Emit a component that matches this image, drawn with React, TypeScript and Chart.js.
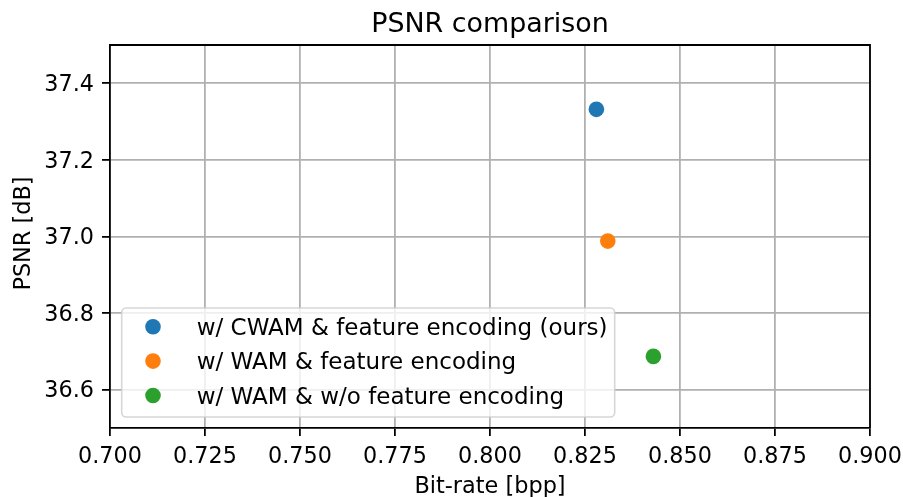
import React, { useEffect, useRef } from "react";
import { Chart, registerables } from "chart.js";

Chart.register(...registerables);

const seriesLabels = [
  "w/ CWAM & feature encoding (ours)",
  "w/ WAM & feature encoding",
  "w/ WAM & w/o feature encoding",
];
const bitRates = [0.828, 0.831, 0.843];
const psnrValues = [37.332, 36.988, 36.687];
const seriesColors = ["#1f77b4", "#ff7f0e", "#2ca02c"];

const xTicks = [0.7, 0.725, 0.75, 0.775, 0.8, 0.825, 0.85, 0.875, 0.9];
const yTicks = [36.6, 36.8, 37.0, 37.2, 37.4];

const chartTitle = "PSNR comparison";
const xTitle = "Bit-rate [bpp]";
const yTitle = "PSNR [dB]";

const FONT = "'DejaVu Sans', sans-serif";
const LW = 1.78;

const decorPlugin = {
  id: "decor",
  afterDraw(chart: any) {
    const ctx = chart.ctx;
    const a = chart.chartArea;
    ctx.save();
    // spines top and right
    ctx.strokeStyle = "#000";
    ctx.lineWidth = LW;
    ctx.beginPath();
    ctx.moveTo(a.left, a.top);
    ctx.lineTo(a.right, a.top);
    ctx.lineTo(a.right, a.bottom);
    ctx.stroke();

    // title
    ctx.fillStyle = "#000";
    ctx.font = `26.9px ${FONT}`;
    ctx.textAlign = "center";
    ctx.textBaseline = "alphabetic";
    ctx.fillText(chartTitle, (a.left + a.right) / 2, 31.5);

    // x title
    ctx.font = `22.4px ${FONT}`;
    ctx.fillText(xTitle, (a.left + a.right) / 2, 493);

    // y title
    ctx.save();
    ctx.translate(29.5, (a.top + a.bottom) / 2 - 3);
    ctx.rotate(-Math.PI / 2);
    ctx.fillText(yTitle, 0, 0);
    ctx.restore();

    // legend
    const bx = a.left + 11.7;
    const bw = 493;
    const bh = 109;
    const by = a.bottom - 11 - bh;
    const r = 4.4;
    ctx.beginPath();
    ctx.moveTo(bx + r, by);
    ctx.lineTo(bx + bw - r, by);
    ctx.arcTo(bx + bw, by, bx + bw, by + r, r);
    ctx.lineTo(bx + bw, by + bh - r);
    ctx.arcTo(bx + bw, by + bh, bx + bw - r, by + bh, r);
    ctx.lineTo(bx + r, by + bh);
    ctx.arcTo(bx, by + bh, bx, by + bh - r, r);
    ctx.lineTo(bx, by + r);
    ctx.arcTo(bx, by, bx + r, by, r);
    ctx.closePath();
    ctx.fillStyle = "rgba(255,255,255,0.8)";
    ctx.fill();
    ctx.strokeStyle = "rgba(204,204,204,0.8)";
    ctx.lineWidth = 1.6;
    ctx.stroke();

    const datasets = chart.data.datasets;
    ctx.font = `23px ${FONT}`;
    ctx.textAlign = "left";
    ctx.textBaseline = "alphabetic";
    datasets.forEach((ds: any, i: number) => {
      const cy = by + 18.7 + i * 34.4;
      ctx.beginPath();
      ctx.arc(bx + 31.3, cy, 7.8, 0, Math.PI * 2);
      ctx.fillStyle = ds.backgroundColor;
      ctx.fill();
      ctx.fillStyle = "#000";
      ctx.fillText(ds.label, bx + 75, cy + 8.2);
    });
    ctx.restore();
  },
};

export default function App() {
  const ref = useRef<HTMLCanvasElement | null>(null);
  useEffect(() => {
    document.body.style.margin = "0";
    Chart.defaults.font.family = FONT;
    const chart = new Chart(ref.current as HTMLCanvasElement, {
      type: "scatter",
      data: {
        datasets: seriesLabels.map((label, i) => ({
          label,
          data: [{ x: bitRates[i], y: psnrValues[i] }],
          backgroundColor: seriesColors[i],
          borderColor: seriesColors[i],
          pointRadius: 7.8,
          pointHoverRadius: 7.8,
          pointBorderWidth: 0,
        })),
      },
      options: {
        animation: false,
        responsive: true,
        maintainAspectRatio: false,
        events: [],
        layout: { padding: { left: 0, right: 33, top: 45, bottom: 0 } },
        plugins: {
          legend: { display: false },
          tooltip: { enabled: false },
          title: { display: false },
        },
        scales: {
          x: {
            type: "linear",
            min: 0.7,
            max: 0.9,
            afterBuildTicks: (axis: any) => {
              axis.ticks = xTicks.map((v) => ({ value: v }));
            },
            afterFit: (scale: any) => {
              scale.height = 69;
              scale.paddingLeft = 0;
              scale.paddingRight = 0;
            },
            ticks: {
              autoSkip: false,
              maxRotation: 0,
              minRotation: 0,
              padding: 8,
              color: "#000",
              font: { size: 22.3, family: FONT },
              callback: (v: any) => Number(v).toFixed(3),
            },
            grid: {
              color: "#b0b0b0",
              lineWidth: LW,
              tickColor: "#000",
              tickWidth: LW,
              tickLength: 8,
            },
            border: { display: true, color: "#000", width: LW },
          },
          y: {
            type: "linear",
            min: 36.5,
            max: 37.5,
            afterBuildTicks: (axis: any) => {
              axis.ticks = yTicks.map((v) => ({ value: v }));
            },
            afterFit: (scale: any) => {
              scale.width = 110;
              scale.paddingTop = 0;
              scale.paddingBottom = 0;
            },
            ticks: {
              autoSkip: false,
              padding: 8,
              labelOffset: 2,
              color: "#000",
              font: { size: 22.3, family: FONT },
              callback: (v: any) => Number(v).toFixed(1),
            },
            grid: {
              color: "#b0b0b0",
              lineWidth: LW,
              tickColor: "#000",
              tickWidth: LW,
              tickLength: 8,
            },
            border: { display: true, color: "#000", width: LW },
          },
        },
      },
      plugins: [decorPlugin],
    } as any);
    return () => chart.destroy();
  }, []);
  return (
    <div style={{ position: "absolute", left: 0, top: 0, width: 903, height: 497, background: "#fff" }}>
      <canvas ref={ref} />
    </div>
  );
}
